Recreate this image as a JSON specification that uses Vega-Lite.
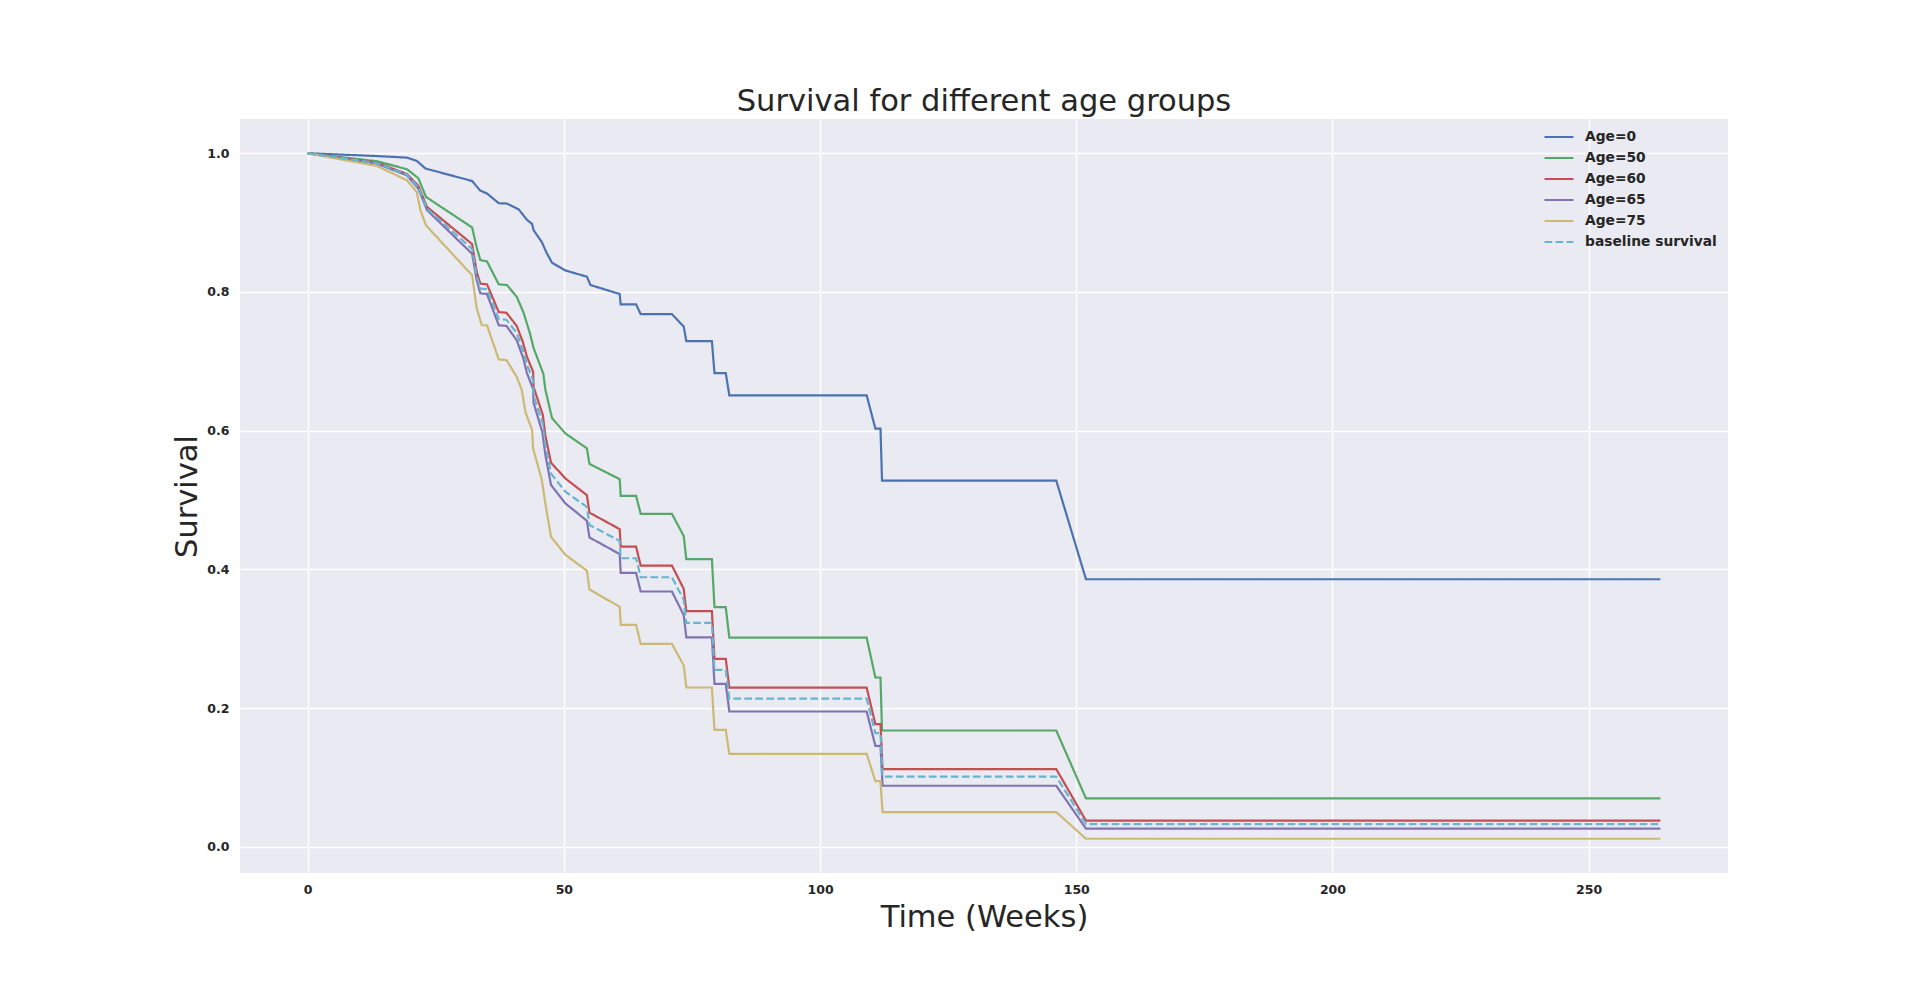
{
  "$schema": "https://vega.github.io/schema/vega-lite/v6.json",
  "width": 1488,
  "height": 754,
  "autosize": {"type": "none"},
  "padding": {"left": 240, "top": 119, "right": 192, "bottom": 109},
  "background": "white",
  "config": {
    "view": {"fill": "#EAEAF2", "stroke": null},
    "font": "DejaVu Sans"
  },
  "title": {
    "text": "Survival for different age groups",
    "fontSize": 30.5,
    "fontWeight": "normal",
    "font": "DejaVu Sans",
    "color": "#262626",
    "anchor": "middle",
    "baseline": "alphabetic",
    "offset": 7,
    "dy": 29
  },
  "datasets": {
    "curves": [
      {"s": "Age=0", "t": 0, "v": 1.0}, {"s": "Age=0", "t": 13.5, "v": 0.996}, {"s": "Age=0", "t": 19.4, "v": 0.9937}, {"s": "Age=0", "t": 21.3, "v": 0.989}, {"s": "Age=0", "t": 23.0, "v": 0.978}, {"s": "Age=0", "t": 32.1, "v": 0.96}, {"s": "Age=0", "t": 33.7, "v": 0.946}, {"s": "Age=0", "t": 35.0, "v": 0.942}, {"s": "Age=0", "t": 37.3, "v": 0.928}, {"s": "Age=0", "t": 38.9, "v": 0.9275}, {"s": "Age=0", "t": 41.2, "v": 0.919}, {"s": "Age=0", "t": 42.8, "v": 0.904}, {"s": "Age=0", "t": 43.8, "v": 0.898}, {"s": "Age=0", "t": 44.1, "v": 0.889}, {"s": "Age=0", "t": 45.7, "v": 0.872}, {"s": "Age=0", "t": 46.6, "v": 0.857}, {"s": "Age=0", "t": 47.7, "v": 0.842}, {"s": "Age=0", "t": 50.3, "v": 0.831}, {"s": "Age=0", "t": 54.5, "v": 0.822}, {"s": "Age=0", "t": 55.2, "v": 0.81}, {"s": "Age=0", "t": 60.9, "v": 0.797}, {"s": "Age=0", "t": 61.1, "v": 0.782}, {"s": "Age=0", "t": 64.1, "v": 0.782}, {"s": "Age=0", "t": 65.0, "v": 0.768}, {"s": "Age=0", "t": 71.1, "v": 0.768}, {"s": "Age=0", "t": 73.4, "v": 0.75}, {"s": "Age=0", "t": 73.9, "v": 0.729}, {"s": "Age=0", "t": 78.9, "v": 0.729}, {"s": "Age=0", "t": 79.4, "v": 0.683}, {"s": "Age=0", "t": 81.6, "v": 0.683}, {"s": "Age=0", "t": 82.3, "v": 0.651}, {"s": "Age=0", "t": 109.1, "v": 0.651}, {"s": "Age=0", "t": 110.8, "v": 0.603}, {"s": "Age=0", "t": 111.8, "v": 0.603}, {"s": "Age=0", "t": 112.1, "v": 0.528}, {"s": "Age=0", "t": 146.1, "v": 0.528}, {"s": "Age=0", "t": 151.9, "v": 0.3857}, {"s": "Age=0", "t": 264, "v": 0.3857},

      {"s": "Age=50", "t": 0, "v": 1.0}, {"s": "Age=50", "t": 13.5, "v": 0.9885}, {"s": "Age=50", "t": 19.4, "v": 0.977}, {"s": "Age=50", "t": 21.6, "v": 0.964}, {"s": "Age=50", "t": 23.1, "v": 0.937}, {"s": "Age=50", "t": 32.1, "v": 0.893}, {"s": "Age=50", "t": 33.0, "v": 0.864}, {"s": "Age=50", "t": 33.7, "v": 0.846}, {"s": "Age=50", "t": 35.0, "v": 0.844}, {"s": "Age=50", "t": 37.3, "v": 0.811}, {"s": "Age=50", "t": 38.9, "v": 0.81}, {"s": "Age=50", "t": 40.8, "v": 0.793}, {"s": "Age=50", "t": 42.1, "v": 0.771}, {"s": "Age=50", "t": 43.4, "v": 0.74}, {"s": "Age=50", "t": 44.1, "v": 0.719}, {"s": "Age=50", "t": 46.0, "v": 0.682}, {"s": "Age=50", "t": 46.4, "v": 0.659}, {"s": "Age=50", "t": 47.7, "v": 0.618}, {"s": "Age=50", "t": 50.3, "v": 0.596}, {"s": "Age=50", "t": 54.5, "v": 0.5745}, {"s": "Age=50", "t": 55.0, "v": 0.552}, {"s": "Age=50", "t": 60.9, "v": 0.53}, {"s": "Age=50", "t": 61.1, "v": 0.506}, {"s": "Age=50", "t": 64.1, "v": 0.506}, {"s": "Age=50", "t": 65.0, "v": 0.48}, {"s": "Age=50", "t": 71.1, "v": 0.48}, {"s": "Age=50", "t": 73.4, "v": 0.448}, {"s": "Age=50", "t": 73.9, "v": 0.4146}, {"s": "Age=50", "t": 78.9, "v": 0.4146}, {"s": "Age=50", "t": 79.4, "v": 0.3454}, {"s": "Age=50", "t": 81.6, "v": 0.3454}, {"s": "Age=50", "t": 82.3, "v": 0.3016}, {"s": "Age=50", "t": 109.1, "v": 0.3016}, {"s": "Age=50", "t": 110.8, "v": 0.244}, {"s": "Age=50", "t": 111.8, "v": 0.244}, {"s": "Age=50", "t": 112.1, "v": 0.1676}, {"s": "Age=50", "t": 146.1, "v": 0.1676}, {"s": "Age=50", "t": 151.9, "v": 0.0696}, {"s": "Age=50", "t": 264, "v": 0.0696},

      {"s": "Age=60", "t": 0, "v": 1.0}, {"s": "Age=60", "t": 13.5, "v": 0.9866}, {"s": "Age=60", "t": 19.4, "v": 0.97}, {"s": "Age=60", "t": 21.6, "v": 0.953}, {"s": "Age=60", "t": 23.3, "v": 0.9226}, {"s": "Age=60", "t": 32.1, "v": 0.869}, {"s": "Age=60", "t": 33.0, "v": 0.829}, {"s": "Age=60", "t": 33.7, "v": 0.812}, {"s": "Age=60", "t": 35.0, "v": 0.811}, {"s": "Age=60", "t": 37.3, "v": 0.771}, {"s": "Age=60", "t": 38.8, "v": 0.77}, {"s": "Age=60", "t": 40.8, "v": 0.751}, {"s": "Age=60", "t": 42.0, "v": 0.728}, {"s": "Age=60", "t": 42.8, "v": 0.7065}, {"s": "Age=60", "t": 44.0, "v": 0.685}, {"s": "Age=60", "t": 44.1, "v": 0.663}, {"s": "Age=60", "t": 45.9, "v": 0.6225}, {"s": "Age=60", "t": 46.4, "v": 0.593}, {"s": "Age=60", "t": 47.5, "v": 0.5538}, {"s": "Age=60", "t": 50.3, "v": 0.531}, {"s": "Age=60", "t": 54.5, "v": 0.507}, {"s": "Age=60", "t": 55.0, "v": 0.4817}, {"s": "Age=60", "t": 60.9, "v": 0.458}, {"s": "Age=60", "t": 61.1, "v": 0.4327}, {"s": "Age=60", "t": 64.1, "v": 0.4327}, {"s": "Age=60", "t": 65.0, "v": 0.4053}, {"s": "Age=60", "t": 71.1, "v": 0.4053}, {"s": "Age=60", "t": 73.4, "v": 0.3718}, {"s": "Age=60", "t": 73.9, "v": 0.3396}, {"s": "Age=60", "t": 78.9, "v": 0.3396}, {"s": "Age=60", "t": 79.4, "v": 0.2709}, {"s": "Age=60", "t": 81.6, "v": 0.2709}, {"s": "Age=60", "t": 82.3, "v": 0.2295}, {"s": "Age=60", "t": 109.1, "v": 0.2295}, {"s": "Age=60", "t": 110.8, "v": 0.1768}, {"s": "Age=60", "t": 111.8, "v": 0.1768}, {"s": "Age=60", "t": 112.2, "v": 0.112}, {"s": "Age=60", "t": 146.1, "v": 0.112}, {"s": "Age=60", "t": 151.9, "v": 0.0375}, {"s": "Age=60", "t": 264, "v": 0.0375},

      {"s": "Age=65", "t": 0, "v": 1.0}, {"s": "Age=65", "t": 13.5, "v": 0.985}, {"s": "Age=65", "t": 19.4, "v": 0.968}, {"s": "Age=65", "t": 21.6, "v": 0.949}, {"s": "Age=65", "t": 23.3, "v": 0.918}, {"s": "Age=65", "t": 32.1, "v": 0.855}, {"s": "Age=65", "t": 33.0, "v": 0.817}, {"s": "Age=65", "t": 33.7, "v": 0.798}, {"s": "Age=65", "t": 35.0, "v": 0.797}, {"s": "Age=65", "t": 37.3, "v": 0.752}, {"s": "Age=65", "t": 38.8, "v": 0.751}, {"s": "Age=65", "t": 40.8, "v": 0.7305}, {"s": "Age=65", "t": 42.1, "v": 0.704}, {"s": "Age=65", "t": 42.8, "v": 0.683}, {"s": "Age=65", "t": 44.0, "v": 0.66}, {"s": "Age=65", "t": 44.1, "v": 0.64}, {"s": "Age=65", "t": 45.8, "v": 0.598}, {"s": "Age=65", "t": 46.4, "v": 0.565}, {"s": "Age=65", "t": 47.5, "v": 0.5216}, {"s": "Age=65", "t": 50.3, "v": 0.495}, {"s": "Age=65", "t": 54.5, "v": 0.47}, {"s": "Age=65", "t": 55.0, "v": 0.446}, {"s": "Age=65", "t": 60.9, "v": 0.422}, {"s": "Age=65", "t": 61.1, "v": 0.395}, {"s": "Age=65", "t": 64.1, "v": 0.395}, {"s": "Age=65", "t": 65.0, "v": 0.368}, {"s": "Age=65", "t": 71.1, "v": 0.368}, {"s": "Age=65", "t": 73.4, "v": 0.334}, {"s": "Age=65", "t": 73.9, "v": 0.302}, {"s": "Age=65", "t": 78.9, "v": 0.302}, {"s": "Age=65", "t": 79.4, "v": 0.2349}, {"s": "Age=65", "t": 81.6, "v": 0.2349}, {"s": "Age=65", "t": 82.3, "v": 0.195}, {"s": "Age=65", "t": 109.1, "v": 0.195}, {"s": "Age=65", "t": 110.8, "v": 0.1455}, {"s": "Age=65", "t": 111.8, "v": 0.1455}, {"s": "Age=65", "t": 112.2, "v": 0.0879}, {"s": "Age=65", "t": 146.1, "v": 0.0879}, {"s": "Age=65", "t": 151.9, "v": 0.026}, {"s": "Age=65", "t": 264, "v": 0.026},

      {"s": "Age=75", "t": 0, "v": 1.0}, {"s": "Age=75", "t": 13.5, "v": 0.9817}, {"s": "Age=75", "t": 19.4, "v": 0.961}, {"s": "Age=75", "t": 21.3, "v": 0.944}, {"s": "Age=75", "t": 22.0, "v": 0.918}, {"s": "Age=75", "t": 23.1, "v": 0.896}, {"s": "Age=75", "t": 32.1, "v": 0.824}, {"s": "Age=75", "t": 33.0, "v": 0.776}, {"s": "Age=75", "t": 34.0, "v": 0.752}, {"s": "Age=75", "t": 35.0, "v": 0.752}, {"s": "Age=75", "t": 37.3, "v": 0.7026}, {"s": "Age=75", "t": 38.8, "v": 0.7017}, {"s": "Age=75", "t": 40.8, "v": 0.6777}, {"s": "Age=75", "t": 41.8, "v": 0.6585}, {"s": "Age=75", "t": 42.5, "v": 0.627}, {"s": "Age=75", "t": 43.8, "v": 0.601}, {"s": "Age=75", "t": 44.0, "v": 0.5745}, {"s": "Age=75", "t": 45.7, "v": 0.529}, {"s": "Age=75", "t": 46.6, "v": 0.4856}, {"s": "Age=75", "t": 47.5, "v": 0.447}, {"s": "Age=75", "t": 50.3, "v": 0.421}, {"s": "Age=75", "t": 54.5, "v": 0.398}, {"s": "Age=75", "t": 55.0, "v": 0.371}, {"s": "Age=75", "t": 60.9, "v": 0.346}, {"s": "Age=75", "t": 61.1, "v": 0.32}, {"s": "Age=75", "t": 64.1, "v": 0.32}, {"s": "Age=75", "t": 65.0, "v": 0.2925}, {"s": "Age=75", "t": 71.1, "v": 0.2925}, {"s": "Age=75", "t": 73.4, "v": 0.2613}, {"s": "Age=75", "t": 73.9, "v": 0.2296}, {"s": "Age=75", "t": 78.9, "v": 0.2296}, {"s": "Age=75", "t": 79.4, "v": 0.1686}, {"s": "Age=75", "t": 81.6, "v": 0.1686}, {"s": "Age=75", "t": 82.3, "v": 0.134}, {"s": "Age=75", "t": 109.1, "v": 0.134}, {"s": "Age=75", "t": 110.8, "v": 0.0945}, {"s": "Age=75", "t": 111.8, "v": 0.0945}, {"s": "Age=75", "t": 112.2, "v": 0.05}, {"s": "Age=75", "t": 146.1, "v": 0.05}, {"s": "Age=75", "t": 151.9, "v": 0.0115}, {"s": "Age=75", "t": 264, "v": 0.0115},

      {"s": "baseline survival", "t": 0, "v": 1.0}, {"s": "baseline survival", "t": 13.5, "v": 0.986}, {"s": "baseline survival", "t": 19.4, "v": 0.969}, {"s": "baseline survival", "t": 21.6, "v": 0.951}, {"s": "baseline survival", "t": 23.3, "v": 0.92}, {"s": "baseline survival", "t": 32.1, "v": 0.862}, {"s": "baseline survival", "t": 33.0, "v": 0.823}, {"s": "baseline survival", "t": 33.7, "v": 0.805}, {"s": "baseline survival", "t": 35.0, "v": 0.804}, {"s": "baseline survival", "t": 37.3, "v": 0.761}, {"s": "baseline survival", "t": 38.8, "v": 0.76}, {"s": "baseline survival", "t": 40.8, "v": 0.741}, {"s": "baseline survival", "t": 42.0, "v": 0.716}, {"s": "baseline survival", "t": 42.8, "v": 0.695}, {"s": "baseline survival", "t": 44.0, "v": 0.673}, {"s": "baseline survival", "t": 44.1, "v": 0.65}, {"s": "baseline survival", "t": 45.9, "v": 0.61}, {"s": "baseline survival", "t": 46.4, "v": 0.58}, {"s": "baseline survival", "t": 47.5, "v": 0.538}, {"s": "baseline survival", "t": 50.3, "v": 0.512}, {"s": "baseline survival", "t": 54.5, "v": 0.49}, {"s": "baseline survival", "t": 55.0, "v": 0.464}, {"s": "baseline survival", "t": 60.9, "v": 0.441}, {"s": "baseline survival", "t": 61.1, "v": 0.416}, {"s": "baseline survival", "t": 64.1, "v": 0.416}, {"s": "baseline survival", "t": 65.0, "v": 0.3886}, {"s": "baseline survival", "t": 71.1, "v": 0.3886}, {"s": "baseline survival", "t": 73.4, "v": 0.356}, {"s": "baseline survival", "t": 73.9, "v": 0.3228}, {"s": "baseline survival", "t": 78.9, "v": 0.3228}, {"s": "baseline survival", "t": 79.4, "v": 0.255}, {"s": "baseline survival", "t": 81.6, "v": 0.255}, {"s": "baseline survival", "t": 82.3, "v": 0.2137}, {"s": "baseline survival", "t": 109.1, "v": 0.2137}, {"s": "baseline survival", "t": 110.8, "v": 0.1638}, {"s": "baseline survival", "t": 111.8, "v": 0.1638}, {"s": "baseline survival", "t": 112.2, "v": 0.101}, {"s": "baseline survival", "t": 146.1, "v": 0.101}, {"s": "baseline survival", "t": 151.9, "v": 0.0327}, {"s": "baseline survival", "t": 264, "v": 0.0327}
    ]
  },
  "data": {"name": "curves"},
  "mark": {"type": "line", "strokeWidth": 2.2, "interpolate": "linear", "clip": true},
  "encoding": {
    "x": {
      "field": "t",
      "type": "quantitative",
      "scale": {"domain": [-13.2, 277.2], "nice": false, "zero": false},
      "axis": {
        "title": "Time (Weeks)",
        "values": [0, 50, 100, 150, 200, 250],
        "format": "d",
        "grid": true,
        "gridColor": "white",
        "gridWidth": 1.4,
        "domain": false,
        "ticks": false,
        "labelFont": "DejaVu Sans",
        "labelFontSize": 12.5,
        "labelFontWeight": "bold",
        "labelColor": "#262626",
        "labelPadding": 10,
        "titleFont": "DejaVu Sans",
        "titleFontSize": 30.5,
        "titleFontWeight": "normal",
        "titleColor": "#262626",
        "titleBaseline": "alphabetic",
        "titleY": 53
      }
    },
    "y": {
      "field": "v",
      "type": "quantitative",
      "scale": {"domain": [-0.0379, 1.0494], "nice": false, "zero": false},
      "axis": {
        "title": "Survival",
        "values": [0, 0.2, 0.4, 0.6, 0.8, 1.0],
        "format": ".1f",
        "grid": true,
        "gridColor": "white",
        "gridWidth": 1.4,
        "domain": false,
        "ticks": false,
        "labelFont": "DejaVu Sans",
        "labelFontSize": 12.5,
        "labelFontWeight": "bold",
        "labelColor": "#262626",
        "labelPadding": 11,
        "titleFont": "DejaVu Sans",
        "titleFontSize": 30.5,
        "titleFontWeight": "normal",
        "titleColor": "#262626",
        "titleAngle": 270,
        "titleBaseline": "alphabetic",
        "titleX": -44,
        "titleY": 377,
        "titleAlign": "center"
      }
    },
    "color": {
      "field": "s",
      "type": "nominal",
      "scale": {
        "domain": ["Age=0", "Age=50", "Age=60", "Age=65", "Age=75", "baseline survival"],
        "range": ["#4C72B0", "#55A868", "#C44E52", "#8172B2", "#CCB974", "#64B5CD"]
      },
      "legend": {
        "title": null,
        "orient": "none",
        "legendX": 1303,
        "legendY": 7.5,
        "symbolType": "stroke",
        "symbolSize": 841,
        "symbolStrokeWidth": 2.2,
        "labelFont": "DejaVu Sans",
        "labelFontSize": 13.8,
        "labelFontWeight": "bold",
        "labelColor": "#262626",
        "labelOffset": 10,
        "rowPadding": 0,
        "clipHeight": 21
      }
    },
    "strokeDash": {
      "field": "s",
      "type": "nominal",
      "scale": {
        "domain": ["Age=0", "Age=50", "Age=60", "Age=65", "Age=75", "baseline survival"],
        "range": [[1, 0], [1, 0], [1, 0], [1, 0], [1, 0], [7.7, 3.3]]
      },
      "legend": {
        "title": null,
        "orient": "none",
        "legendX": 1303,
        "legendY": 7.5,
        "symbolType": "stroke",
        "symbolSize": 841,
        "symbolStrokeWidth": 2.2,
        "labelFont": "DejaVu Sans",
        "labelFontSize": 13.8,
        "labelFontWeight": "bold",
        "labelColor": "#262626",
        "labelOffset": 10,
        "rowPadding": 0,
        "clipHeight": 21
      }
    }
  }
}
